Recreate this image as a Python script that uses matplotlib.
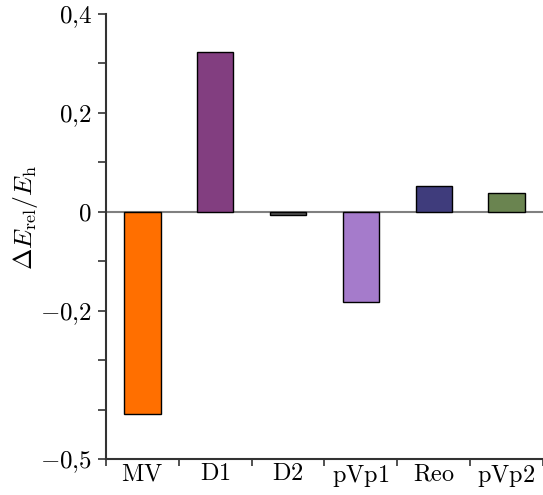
import numpy as np
import matplotlib
matplotlib.use('Agg')
import matplotlib.pyplot as plt

plt.rcParams['mathtext.fontset'] = 'cm'
plt.rcParams['font.family'] = 'serif'
plt.rcParams['font.serif'] = ['cmr10', 'DejaVu Serif']

# data
methods = ['MV', 'D1', 'D2', 'pVp1', 'Reo', 'pVp2']
delta_e = [-0.409, 0.323, -0.006, -0.183, 0.053, 0.038]
colors = ['#ff6f00', '#823e80', '#555555', '#a57bcb', '#3f3c7c', '#6a8450']
ytick_labels = {0.4: '0,4', 0.2: '0,2', 0.0: '0', -0.2: '-0,2', -0.5: '-0,5'}


def main():
    fig = plt.figure(figsize=(5.43, 4.95), dpi=100)
    ax = fig.add_axes([0.195, 0.0727, 0.805, 0.899])

    x = np.arange(len(methods))
    ax.bar(x, delta_e, width=0.5, color=colors, edgecolor='black',
           linewidth=1.0, zorder=3)
    ax.axhline(0, color='#808080', linewidth=1.5, zorder=2)

    ax.set_xlim(-0.5, 5.42)
    ax.set_ylim(-0.5, 0.4)

    # y ticks every 0.1, only some labelled
    yt = np.round(np.arange(-0.5, 0.41, 0.1), 1)
    ax.set_yticks(yt)
    labs = []
    for v in yt:
        s = ytick_labels.get(float(v), '')
        if s:
            s = '$' + s.replace(',', '{,}') + '$'
        labs.append(s)
    ax.set_yticklabels(labs, fontsize=18)

    # x ticks at the category borders, labels in the middle
    ax.set_xticks(np.arange(-0.5, 6, 1.0))
    ax.set_xticklabels([])
    ax.set_xticks(x, minor=True)
    ax.set_xticklabels(['$\\mathrm{%s}$' % m for m in methods], minor=True,
                       fontsize=17.5)
    ax.tick_params(axis='x', which='minor', length=0, pad=3)
    ax.tick_params(axis='both', which='major', direction='out', length=6,
                   width=1.2, color='#333333')
    ax.tick_params(axis='x', which='major', length=5)
    ax.tick_params(axis='y', pad=4)

    for side in ['top', 'right']:
        ax.spines[side].set_visible(False)
    for side in ['left', 'bottom']:
        ax.spines[side].set_linewidth(1.5)
        ax.spines[side].set_color('#333333')

    ax.set_ylabel(r'$\Delta E_{\mathrm{rel}}/E_{\mathrm{h}}$', fontsize=18.5,
                  va='center')
    ax.yaxis.set_label_coords(-0.185, 0.544)

    fig.savefig('out.png', dpi=100)


if __name__ == '__main__':
    main()
